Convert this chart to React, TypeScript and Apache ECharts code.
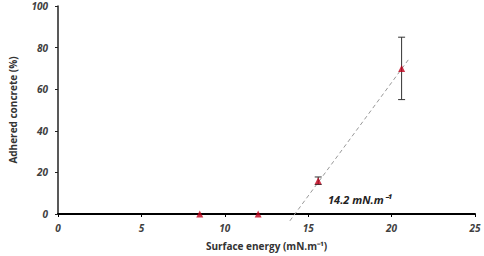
import React, { useEffect, useRef } from "react";
import * as echarts from "echarts";

const xValues = [8.5, 12, 15.6, 20.6];
const yValues = [0, 0, 16, 70];
const yErrors = [0, 0, 1.8, 15];
const trendX = [13.9, 21];
const trendY = [-3.3, 74.1];
const xTicks = [0, 5, 10, 15, 20, 25];
const annotation = "14.2 mN.m⁻¹";
const annotationPos = [18.1, 7.2];

export default function App() {
  const ref = useRef<HTMLDivElement>(null);
  useEffect(() => {
    const chart = echarts.init(ref.current!, null, { renderer: "svg" });
    const tickLabel = {
      fontStyle: "italic",
      fontWeight: "bold",
      fontSize: 10,
      color: "#404040",
      fontFamily: "Open Sans",
    };
    chart.setOption({
      animation: false,
      grid: { left: 55, right: 9, top: 6, bottom: 41 },
      xAxis: {
        type: "value",
        min: xTicks[0],
        max: xTicks[xTicks.length - 1],
        interval: 5,
        name: "Surface energy (mN.m⁻¹)",
        nameLocation: "middle",
        nameGap: 27,
        nameTextStyle: { fontSize: 10, fontWeight: "bold", color: "#333", fontFamily: "Open Sans" },
        axisLine: { onZero: false, lineStyle: { color: "#000", width: 2 } },
        axisTick: { show: true, length: 3, lineStyle: { color: "#000" } },
        axisLabel: { ...tickLabel, margin: 9 },
        splitLine: { show: false },
      },
      yAxis: {
        type: "value",
        min: 0,
        max: 100,
        interval: 20,
        name: "Adhered concrete (%)",
        nameLocation: "middle",
        nameGap: 40,
        nameTextStyle: { fontSize: 10, fontWeight: "bold", color: "#333", fontFamily: "Open Sans" },
        axisLine: { show: true, lineStyle: { color: "#222", width: 1.5 } },
        axisTick: { show: true, length: 3, lineStyle: { color: "#222" } },
        axisLabel: { ...tickLabel, margin: 10 },
        splitLine: { show: false },
      },
      series: [
        {
          type: "line",
          data: trendX.map((x, i) => [x, trendY[i]]),
          symbol: "none",
          clip: false,
          lineStyle: { color: "#999", width: 1, type: [4, 3] },
          z: 1,
          markPoint: {
            symbol: "circle",
            symbolSize: 0,
            data: [{ coord: annotationPos }],
            label: {
              show: true,
              position: "inside",
              formatter: annotation,
              fontStyle: "italic",
              fontWeight: "bold",
              fontSize: 11,
              color: "#222",
              fontFamily: "Open Sans",
            },
          },
        },
        {
          type: "custom",
          data: xValues.map((x, i) => [x, yValues[i], yErrors[i]]),
          z: 2,
          renderItem: (params: any, api: any) => {
            const x = api.value(0);
            const y = api.value(1);
            const e = api.value(2);
            if (!e) return null;
            const top = api.coord([x, y + e]);
            const bot = api.coord([x, y - e]);
            const w = 3.5;
            const style = { stroke: "#333", lineWidth: 1 };
            return {
              type: "group",
              children: [
                { type: "line", shape: { x1: top[0], y1: top[1], x2: bot[0], y2: bot[1] }, style },
                { type: "line", shape: { x1: top[0] - w, y1: top[1], x2: top[0] + w, y2: top[1] }, style },
                { type: "line", shape: { x1: bot[0] - w, y1: bot[1], x2: bot[0] + w, y2: bot[1] }, style },
              ],
            };
          },
        },
        {
          type: "scatter",
          data: xValues.map((x, i) => [x, yValues[i]]),
          symbol: "triangle",
          symbolSize: 7,
          clip: false,
          itemStyle: { color: "#c0001a" },
          z: 3,
        },
      ],
    });
    return () => chart.dispose();
  }, []);
  return (
    <div
      ref={ref}
      style={{ position: "absolute", left: 0, top: 0, width: 484, height: 256 }}
    />
  );
}
